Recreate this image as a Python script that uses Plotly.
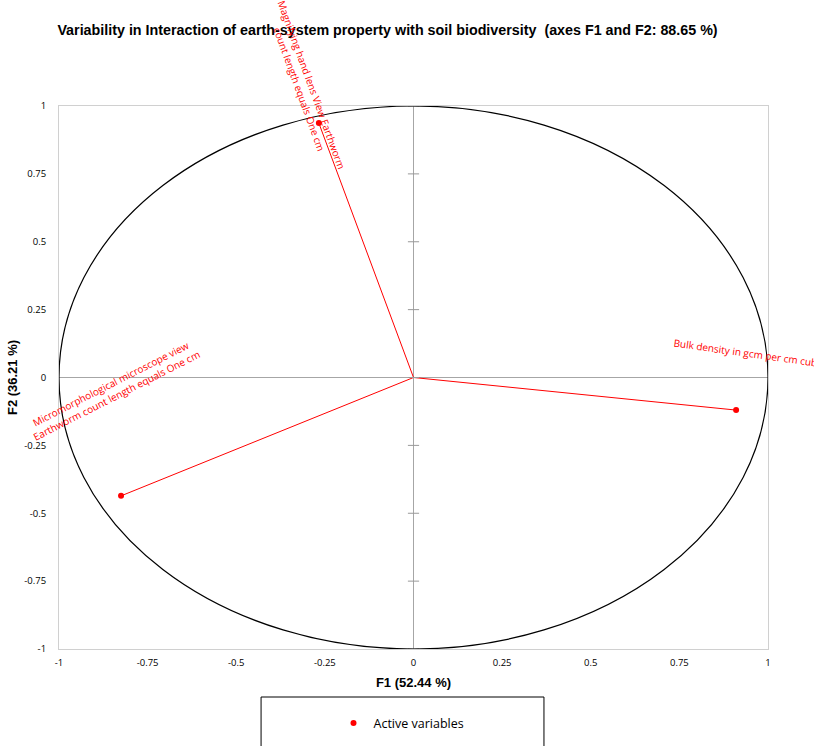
import plotly.graph_objects as go
import numpy as np

variables = [
    "Magnifying hand lens View Earthworm<br>count length equals One cm",
    "Micromorphological microscope view<br>Earthworm count length equals One cm",
    "Bulk density in gcm per cm cube",
]
f1 = [-0.267, -0.825, 0.910]
f2 = [0.937, -0.436, -0.120]
label_x = [-0.306, -0.846, 0.945]
label_y = [1.07, -0.045, 0.09]
label_angle = [70, -27, 8]

tick_vals = [-1, -0.75, -0.5, -0.25, 0, 0.25, 0.5, 0.75, 1]
tick_text = ["-1", "-0.75", "-0.5", "-0.25", "0", "0.25", "0.5", "0.75", "1"]

title = "Variability in Interaction of earth-system property with soil biodiversity  (axes F1 and F2: 88.65 %)"
x_title = "F1 (52.44 %)"
y_title = "F2 (36.21 %)"

RED = "#ff0000"
fig = go.Figure()

# vectors from origin
lx, ly = [], []
for a, b in zip(f1, f2):
    lx += [0, a, None]
    ly += [0, b, None]
fig.add_trace(go.Scatter(x=lx, y=ly, mode="lines", line=dict(color=RED, width=1),
                         showlegend=False, hoverinfo="skip"))

# tick marks on vertical zero line
fig.add_trace(go.Scatter(x=[0] * len(tick_vals), y=tick_vals, mode="markers",
                         marker=dict(symbol="line-ew", size=8, line=dict(color="#999999", width=1)),
                         showlegend=False, hoverinfo="skip"))

fig.add_trace(go.Scatter(x=f1, y=f2, mode="markers", name="Active variables",
                         marker=dict(color=RED, size=6), showlegend=True))

# labels placed in paper coordinates (converted from data coords, range [-1, 1])
for t, x, y, a in zip(variables, label_x, label_y, label_angle):
    fig.add_annotation(x=(x + 1) / 2, y=(y + 1) / 2, xref="paper", yref="paper",
                       text=t, textangle=a, showarrow=False,
                       xanchor="center", yanchor="middle",
                       font=dict(family="Open Sans", size=10, color=RED))

# correlation circle
fig.add_shape(type="circle", xref="x", yref="y", x0=-1, y0=-1, x1=1, y1=1,
              line=dict(color="black", width=1.2), layer="above")

# legend box
fig.add_shape(type="rect", xref="paper", yref="paper", x0=0.285, x1=0.684,
              y0=-0.0884, y1=-0.3, line=dict(color="black", width=1))

fig.update_layout(
    width=814, height=746,
    margin=dict(l=59, r=46, t=106, b=97, autoexpand=False),
    paper_bgcolor="white", plot_bgcolor="white",
    title=dict(text=f"<b>{title}</b>", x=387.5 / 814, xanchor="center", y=1 - 30 / 746,
               yanchor="middle", font=dict(family="Liberation Sans", size=14.3, color="black")),
    showlegend=True,
    legend=dict(x=0.5 - 12 / 709, xanchor="center", y=-0.137, yanchor="middle", orientation="h",
                font=dict(family="Open Sans", size=12.5, color="black"),
                bgcolor="rgba(0,0,0,0)", itemwidth=30),
    font=dict(family="Open Sans", size=10, color="black"),
)
fig.update_xaxes(range=[-1, 1], tickvals=tick_vals, ticktext=tick_text, automargin=False,
                 showgrid=False, zeroline=True, zerolinecolor="#a6a6a6", zerolinewidth=1,
                 showline=True, linecolor="#d0d0d0", linewidth=1, mirror=True,
                 ticks="", ticklabelstandoff=5, tickfont=dict(family="Open Sans", size=9.5),
                 title=dict(text=f"<b>{x_title}</b>", font=dict(family="Liberation Sans", size=13), standoff=9))
fig.update_yaxes(range=[-1, 1], tickvals=tick_vals, ticktext=tick_text, automargin=False,
                 showgrid=False, zeroline=True, zerolinecolor="#a6a6a6", zerolinewidth=1,
                 showline=True, linecolor="#d0d0d0", linewidth=1, mirror=True,
                 ticks="", ticklabelstandoff=10, tickfont=dict(family="Open Sans", size=9.5),
                 title=dict(text=f"<b>{y_title}</b>", font=dict(family="Liberation Sans", size=13), standoff=3))

fig.write_html("out.html")
